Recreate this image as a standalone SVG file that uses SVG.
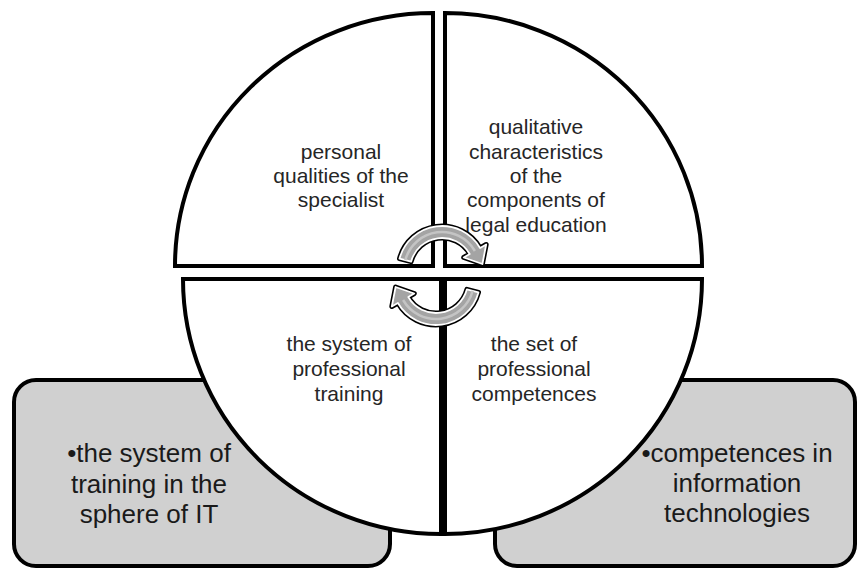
<svg xmlns="http://www.w3.org/2000/svg" width="857" height="569" viewBox="0 0 857 569">
  <style>
    .quad { fill: #ffffff; stroke: #000000; stroke-width: 4; stroke-linejoin: miter; }
    .box { fill: #d0d0d0; stroke: #000000; stroke-width: 4; }
    .qtext { font-family: "Liberation Sans", Arial, sans-serif; font-size: 21px; fill: #262626; text-anchor: middle; }
    .btext { font-family: "Liberation Sans", Arial, sans-serif; font-size: 26px; fill: #1a1a1a; text-anchor: middle; }
    .arrow-edge { fill: none; stroke: #000000; stroke-width: 5; stroke-linejoin: round; }
    .arrow-body { fill: #a4a4a4; stroke: #ffffff; stroke-width: 1.8; stroke-linejoin: round; }
    .arrow-core { fill: none; stroke: #c4c4c4; stroke-width: 2.5; }
  </style>
  <defs>
    <!-- clockwise block arc with arrowhead -->
    <path id="cycleArrow" d="M 399.5 258.6 A 44 44 0 0 1 480.1 248 L 486.2 244.5 L 482.4 264 L 463.7 257.5 L 469.7 254 A 32 32 0 0 0 411.1 261.7 Z"/>
  </defs>

  <!-- side boxes -->
  <g id="box-it-training">
    <rect class="box" x="14" y="380" width="376" height="186" rx="22" ry="22"/>
  </g>
  <g id="box-it-competences">
    <rect class="box" x="495" y="380" width="360" height="186" rx="22" ry="22"/>
  </g>

  <!-- four quadrants of the circle -->
  <g id="quad-personal">
    <path class="quad" d="M 433 266 L 175 266 A 258 253 0 0 1 433 13 Z"/>
    <text class="qtext" x="341" y="159">personal</text>
    <text class="qtext" x="341" y="183">qualities of the</text>
    <text class="qtext" x="341" y="207">specialist</text>
  </g>
  <g id="quad-qualitative">
    <path class="quad" d="M 445 266 L 445 13 A 257 253 0 0 1 702 266 Z"/>
    <text class="qtext" x="536" y="134">qualitative</text>
    <text class="qtext" x="536" y="158.5">characteristics</text>
    <text class="qtext" x="536" y="183">of the</text>
    <text class="qtext" x="536" y="207">components of</text>
    <text class="qtext" x="536" y="231.5">legal education</text>
  </g>
  <g id="quad-training">
    <path class="quad" d="M 441 279 L 441 534 A 258 255 0 0 1 183 279 Z"/>
    <text class="qtext" x="349" y="351">the system of</text>
    <text class="qtext" x="349" y="376">professional</text>
    <text class="qtext" x="349" y="401">training</text>
  </g>
  <g id="quad-competences">
    <path class="quad" d="M 445 279 L 702 279 A 257 255 0 0 1 445 534 Z"/>
    <text class="qtext" x="534" y="351">the set of</text>
    <text class="qtext" x="534" y="376">professional</text>
    <text class="qtext" x="534" y="401">competences</text>
  </g>

  <!-- box labels -->
  <g id="label-it-training">
    <text class="btext" x="149" y="462">•the system of</text>
    <text class="btext" x="149" y="493">training in the</text>
    <text class="btext" x="149" y="523">sphere of IT</text>
  </g>
  <g id="label-it-competences">
    <text class="btext" x="737" y="462">•competences in</text>
    <text class="btext" x="737" y="492">information</text>
    <text class="btext" x="737" y="522">technologies</text>
  </g>

  <!-- cycle arrows -->
  <g id="connectors">
    <g id="arrow-top">
      <use href="#cycleArrow" class="arrow-edge"/>
      <use href="#cycleArrow" class="arrow-body"/>
      <path class="arrow-core" d="M 405.3 260.2 A 38 38 0 0 1 474.9 251"/>
    </g>
    <g id="arrow-bottom" transform="rotate(180 439 275.5)">
      <use href="#cycleArrow" class="arrow-edge"/>
      <use href="#cycleArrow" class="arrow-body"/>
      <path class="arrow-core" d="M 405.3 260.2 A 38 38 0 0 1 474.9 251"/>
    </g>
  </g>
</svg>
